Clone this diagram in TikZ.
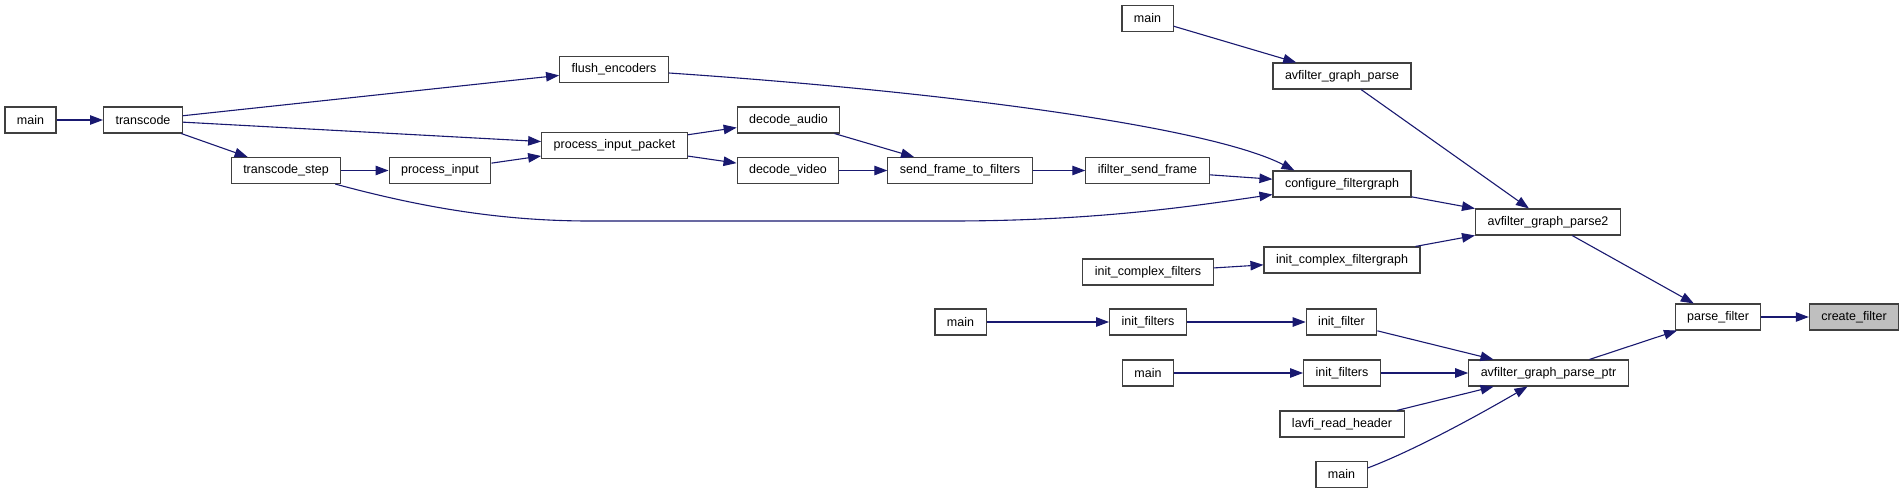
\documentclass[tikz,border=0pt]{standalone}
\usepackage{fontspec}
\setmainfont{Liberation Sans}
\usetikzlibrary{arrows.meta}
\definecolor{midnight}{RGB}{25,25,112}

\begin{document}
\begin{tikzpicture}[
    x=1pt, y=-1pt,
    >={Triangle[length=13pt,width=9.5pt]},
    fn/.style={draw=black!75, line width=1.1pt, fill=white,
      minimum height=26pt, inner xsep=12pt, inner ysep=0pt,
      font=\fontsize{12.5}{14}\selectfont},
    cur/.style={fn, fill=black!25},
    call/.style={->, draw=midnight, line width=1.1pt}
    ]
    \useasboundingbox (0,0) rectangle (1904,493);

    % callers of transcode
    \node[fn] (maina)    at (30.5,120)  {main};
    \node[fn] (transcode) at (143,120)  {transcode};
    \node[fn] (flushenc) at (614,69.5)  {flush\_encoders};
    \node[fn] (pip)      at (614.5,145.5) {process\_input\_packet};
    \node[fn] (tstep)    at (286,170.5) {transcode\_step};
    \node[fn] (pinput)   at (440,170.5) {process\_input};
    \node[fn] (daudio)   at (788.5,120) {decode\_audio};
    \node[fn] (dvideo)   at (788,170.5) {decode\_video};
    \node[fn] (sendframe) at (960,170.5) {send\_frame\_to\_filters};
    \node[fn] (ifsend)   at (1147.5,170.5) {ifilter\_send\_frame};
    \node[fn] (conffg)   at (1342,184)  {configure\_filtergraph};

    % graph parsing
    \node[fn] (mainb)    at (1147.5,18.5) {main};
    \node[fn] (agparse)  at (1342,76)   {avfilter\_graph\_parse};
    \node[fn] (agparse2) at (1548,222)  {avfilter\_graph\_parse2};
    \node[fn] (initcf)   at (1148,272)  {init\_complex\_filters};
    \node[fn] (initcfg)  at (1342,260)  {init\_complex\_filtergraph};
    \node[fn] (parsefilter) at (1718,317) {parse\_filter};
    \node[cur] (createfilter) at (1854,317) {create\_filter};

    % callers of avfilter_graph_parse_ptr
    \node[fn] (mainc)    at (960.5,322) {main};
    \node[fn] (initfsa)  at (1148,322)  {init\_filters};
    \node[fn] (initf)    at (1341.5,322) {init\_filter};
    \node[fn] (maind)    at (1148,373)  {main};
    \node[fn] (initfsb)  at (1342,373)  {init\_filters};
    \node[fn] (agptr)    at (1548.5,373) {avfilter\_graph\_parse\_ptr};
    \node[fn] (lavfi)    at (1342,424)  {lavfi\_read\_header};
    \node[fn] (maine)    at (1341.5,474.5) {main};

    \path
    (maina)     edge[call] (transcode)
    (transcode) edge[call] (flushenc)
    (transcode) edge[call] (pip)
    (transcode) edge[call] (tstep)
    (tstep)     edge[call] (pinput)
    (pinput)    edge[call] (pip)
    (pip)       edge[call] (daudio)
    (pip)       edge[call] (dvideo)
    (daudio)    edge[call] (sendframe)
    (dvideo)    edge[call] (sendframe)
    (sendframe) edge[call] (ifsend)
    (ifsend)    edge[call] (conffg)
    (mainb)     edge[call] (agparse)
    (agparse)   edge[call] (agparse2)
    (conffg)    edge[call] (agparse2)
    (initcfg)   edge[call] (agparse2)
    (initcf)    edge[call] (initcfg)
    (agparse2)  edge[call] (parsefilter)
    (parsefilter) edge[call] (createfilter)
    (mainc)     edge[call] (initfsa)
    (initfsa)   edge[call] (initf)
    (initf)     edge[call] (agptr)
    (maind)     edge[call] (initfsb)
    (initfsb)   edge[call] (agptr)
    (lavfi)     edge[call] (agptr)
    (agptr)     edge[call] (parsefilter);

    % long curved calls
    \draw[call] ([yshift=-3.5pt]flushenc.east)
      .. controls (950,92) and (1210,127) .. ([xshift=22pt]conffg.north west);
    \draw[call] ([xshift=-6pt]tstep.south east)
      .. controls (420,207) and (500,221) .. (590,221) -- (950,221)
      .. controls (1100,221) and (1200,205) .. ([yshift=3pt]conffg.south west);
    \draw[call] ([yshift=6.5pt]maine.east)
      .. controls (1410,452) and (1470,420) .. ([xshift=-21pt]agptr.south);
\end{tikzpicture}
\end{document}
